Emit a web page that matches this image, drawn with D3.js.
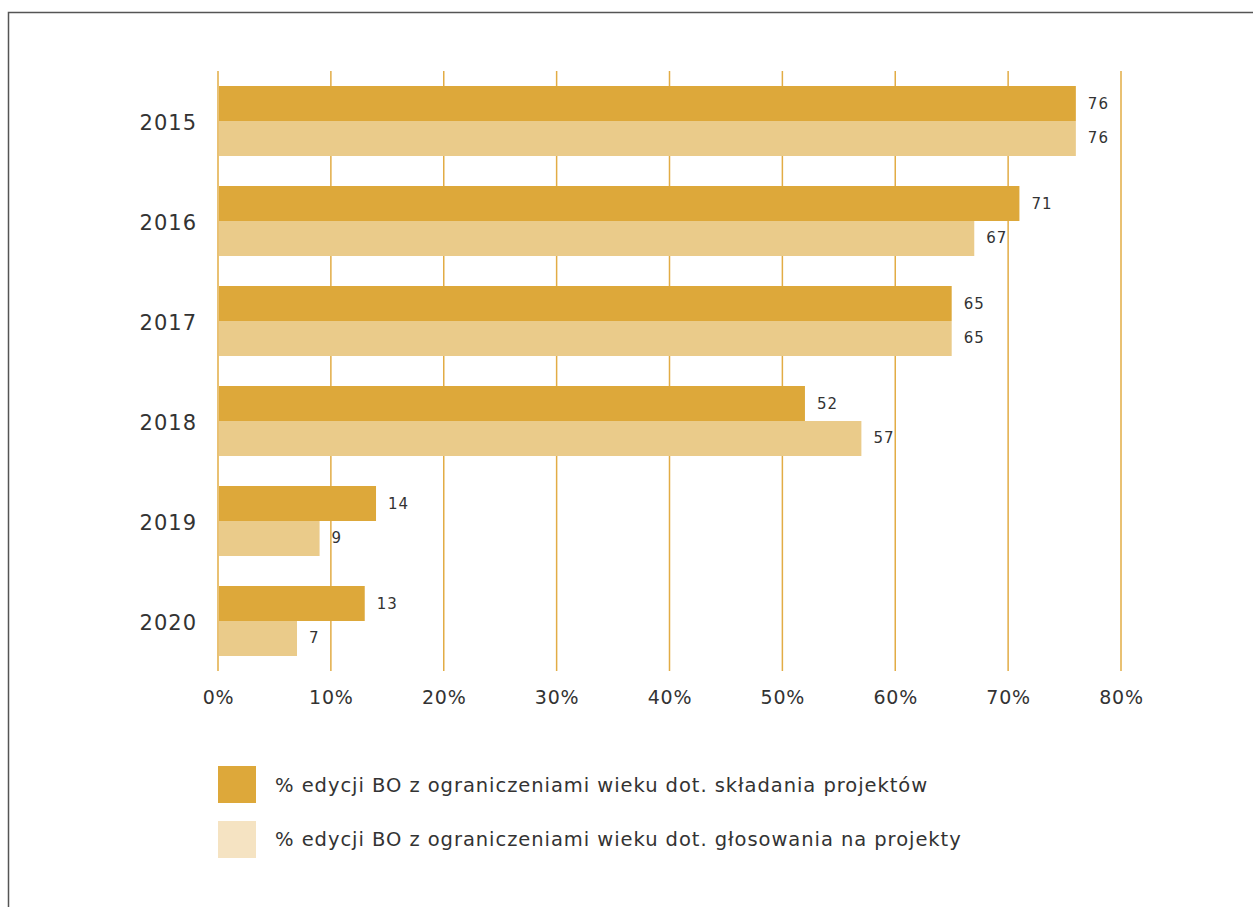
<!DOCTYPE html>
<html><head><meta charset="utf-8">
<script src="https://cdn.jsdelivr.net/npm/d3@7"></script>
<style>body{margin:0;background:#fff;}svg{display:block;}</style>
</head><body>
<svg id="c" width="1253" height="907"></svg>
<script>
const years = ["2015","2016","2017","2018","2019","2020"];
const submitValues = [76, 71, 65, 52, 14, 13];
const voteValues = [76, 67, 65, 57, 9, 7];
const tickValues = [0,10,20,30,40,50,60,70,80];
const legendLabels = ["% edycji BO z ograniczeniami wieku dot. składania projektów",
                      "% edycji BO z ograniczeniami wieku dot. głosowania na projekty"];

const FONT = "'DejaVu Sans', sans-serif";
const svg = d3.select("#c");
const dark = "#DDA83A", light = "#EACB8A", legendLight = "#F5E3C2", grid = "#E2AC45";

svg.append("rect").attr("x",8.5).attr("y",12.5).attr("width",1260).attr("height",920)
  .attr("fill","none").attr("stroke","#555").attr("stroke-width",1.5);

const x = d3.scaleLinear().domain([0,80]).range([218,1121]);
const y = d3.scaleBand().domain(years).range([71,671]).paddingInner(0.3).paddingOuter(0.15);

// grid
svg.append("g").selectAll("line").data(tickValues).join("line")
  .attr("x1",d=>x(d)).attr("x2",d=>x(d)).attr("y1",71).attr("y2",671)
  .attr("stroke",grid).attr("stroke-width",1.5);

const bh = y.bandwidth()/2;
const g = svg.append("g");
g.selectAll(".b1").data(years).join("rect")
  .attr("x",x(0)+1).attr("y",d=>y(d)).attr("height",bh)
  .attr("width",(d,i)=>x(submitValues[i])-x(0)-1).attr("fill",dark);
g.selectAll(".b2").data(years).join("rect")
  .attr("x",x(0)+1).attr("y",d=>y(d)+bh).attr("height",bh)
  .attr("width",(d,i)=>x(voteValues[i])-x(0)-1).attr("fill",light);

// value labels
g.selectAll(".l1").data(years).join("text")
  .attr("x",(d,i)=>x(submitValues[i])+12).attr("y",d=>y(d)+bh/2+1)
  .attr("dominant-baseline","middle").attr("font-family",FONT).attr("font-size",15)
  .attr("letter-spacing",1).attr("fill","#333").text((d,i)=>submitValues[i]);
g.selectAll(".l2").data(years).join("text")
  .attr("x",(d,i)=>x(voteValues[i])+12).attr("y",d=>y(d)+bh*1.5)
  .attr("dominant-baseline","middle").attr("font-family",FONT).attr("font-size",15)
  .attr("letter-spacing",1).attr("fill","#333").text((d,i)=>voteValues[i]);

// y axis labels
const ya = svg.append("g").attr("transform","translate(218,2)")
  .call(d3.axisLeft(y).tickSize(0).tickPadding(21));
ya.select(".domain").remove();
ya.selectAll("text").attr("font-family",FONT).attr("font-size",21).attr("fill","#333")
  .attr("letter-spacing",1).attr("dy","0.35em");

// x axis labels
const xa = svg.append("g").attr("transform","translate(0,671)")
  .call(d3.axisBottom(x).tickValues(tickValues).tickFormat(d=>d+"%").tickSize(0).tickPadding(20));
xa.select(".domain").remove();
xa.selectAll("text").attr("font-family",FONT).attr("font-size",19).attr("fill","#333")
  .attr("letter-spacing",0.8).attr("dy","0.7em");

// legend
const colors = [dark, legendLight];
const lg = svg.append("g");
lg.selectAll("rect").data(legendLabels).join("rect")
  .attr("x",218).attr("y",(d,i)=>766+i*55).attr("width",38).attr("height",37)
  .attr("fill",(d,i)=>colors[i]);
lg.selectAll("text").data(legendLabels).join("text")
  .attr("x",275).attr("y",(d,i)=>786+i*54)
  .attr("dominant-baseline","middle").attr("font-family",FONT).attr("font-size",19.5)
  .attr("letter-spacing",0.95).attr("fill","#333").text(d=>d);
</script>
</body></html>
